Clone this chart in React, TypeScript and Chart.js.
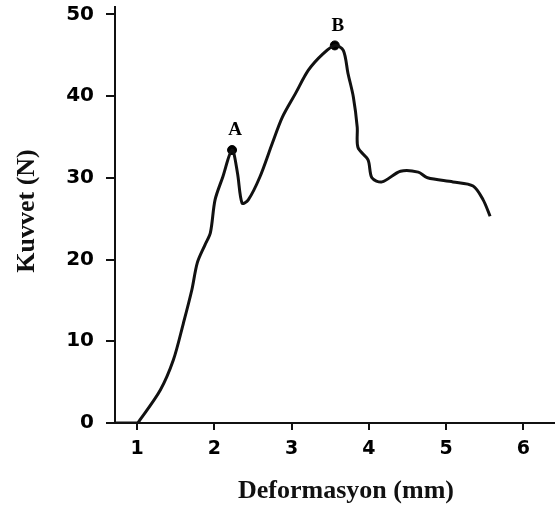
import React, { useEffect, useRef } from "react";
import { Chart, registerables } from "chart.js";

Chart.register(...registerables);

const deformation = [0.715, 1.0, 1.04, 1.3, 1.47, 1.6, 1.71, 1.78, 1.88, 1.95, 2.01, 2.11, 2.23, 2.3, 2.36, 2.44, 2.59, 2.75, 2.88, 3.05, 3.22, 3.41, 3.56, 3.67, 3.73, 3.8, 3.85, 3.86, 3.99, 4.04, 4.17, 4.41, 4.64, 4.76, 5.09, 5.35, 5.48, 5.57];
const force = [0, 0, 0.4, 4.0, 7.7, 12.2, 16.3, 19.6, 21.8, 23.3, 27.3, 30.1, 33.4, 30.6, 26.9, 27.3, 30.1, 34.2, 37.4, 40.3, 43.2, 45.2, 46.2, 45.6, 42.8, 39.9, 36.2, 33.7, 32.2, 30.0, 29.5, 30.8, 30.7, 30.0, 29.5, 29.0, 27.3, 25.3];

const peakLabels = ["A", "B"];
const peakX = [2.23, 3.56];
const peakY = [33.4, 46.2];

const xTicks = [1, 2, 3, 4, 5, 6];
const yTicks = [0, 10, 20, 30, 40, 50];

const xTitle = "Deformasyon (mm)";
const yTitle = "Kuvvet (N)";

export default function App() {
  const ref = useRef<HTMLCanvasElement | null>(null);

  useEffect(() => {
    document.body.style.margin = "0";
    const canvas = ref.current;
    if (!canvas) return;

    const peakLabelPlugin = {
      id: "peakLabels",
      afterDatasetsDraw(chart: any) {
        const ctx = chart.ctx;
        const meta = chart.getDatasetMeta(1);
        ctx.save();
        ctx.fillStyle = "#000";
        ctx.font = "bold 19px 'Liberation Serif'";
        ctx.textAlign = "center";
        ctx.textBaseline = "bottom";
        meta.data.forEach((pt: any, i: number) => {
          ctx.fillText(peakLabels[i], pt.x + 3, pt.y - 10);
        });
        ctx.restore();
      },
    };

    const titlesPlugin = {
      id: "axisTitles",
      afterDraw(chart: any) {
        const ctx = chart.ctx;
        const area = chart.chartArea;
        ctx.save();
        ctx.fillStyle = "#111";
        ctx.font = "bold 26px 'Liberation Serif'";
        ctx.textAlign = "center";
        ctx.textBaseline = "middle";
        ctx.fillText(xTitle, (area.left + area.right) / 2 + 11, 491);
        ctx.translate(27, (area.top + area.bottom) / 2 - 4);
        ctx.rotate(-Math.PI / 2);
        ctx.fillText(yTitle, 0, 0);
        ctx.restore();
      },
    };

    const chart = new Chart(canvas, {
      type: "line",
      data: {
        datasets: [
          {
            label: "Kuvvet",
            data: deformation.map((x, i) => ({ x, y: force[i] })),
            borderColor: "#111",
            borderWidth: 3,
            pointRadius: 0,
            tension: 0.3,
            fill: false,
          },
          {
            label: "Peaks",
            data: peakX.map((x, i) => ({ x, y: peakY[i] })),
            showLine: false,
            pointRadius: 4.5,
            pointBackgroundColor: "#000",
            pointBorderColor: "#000",
          },
        ],
      },
      options: {
        responsive: false,
        animation: false,
        layout: { autoPadding: false, padding: { top: 7, right: 0, left: 0, bottom: 0 } },
        plugins: {
          legend: { display: false },
          tooltip: { enabled: false },
        },
        scales: {
          x: {
            type: "linear",
            min: 0.715,
            max: 6.41,
            afterBuildTicks: (scale: any) => {
              scale.ticks = xTicks.map((v) => ({ value: v }));
            },
            afterFit: (scale: any) => {
              scale.height = 88;
              scale.paddingLeft = 0;
              scale.paddingRight = 0;
            },
            border: { display: true, color: "#111", width: 2 },
            grid: { drawOnChartArea: false, drawTicks: true, tickLength: 7, color: "#111", lineWidth: 2 },
            ticks: {
              color: "#000",
              padding: 8,
              maxRotation: 0,
              font: { family: "'DejaVu Sans'", size: 19, weight: "bold" },
              callback: (v: any) => String(v),
            },
          },
          y: {
            type: "linear",
            min: 0,
            max: 50.9,
            afterBuildTicks: (scale: any) => {
              scale.ticks = yTicks.map((v) => ({ value: v }));
            },
            afterFit: (scale: any) => {
              scale.width = 115;
              scale.paddingTop = 0;
              scale.paddingBottom = 0;
            },
            border: { display: true, color: "#111", width: 2 },
            grid: { drawOnChartArea: false, drawTicks: true, tickLength: 9, color: "#111", lineWidth: 2 },
            ticks: {
              color: "#000",
              padding: 12,
              font: { family: "'DejaVu Sans'", size: 20, weight: "bold" },
              callback: (v: any) => String(v),
            },
          },
        },
      },
      plugins: [peakLabelPlugin, titlesPlugin],
    });

    return () => chart.destroy();
  }, []);

  return (
    <div style={{ position: "absolute", left: 0, top: 0, width: 555, height: 511, background: "#fff" }}>
      <canvas ref={ref} width={555} height={511} />
    </div>
  );
}
